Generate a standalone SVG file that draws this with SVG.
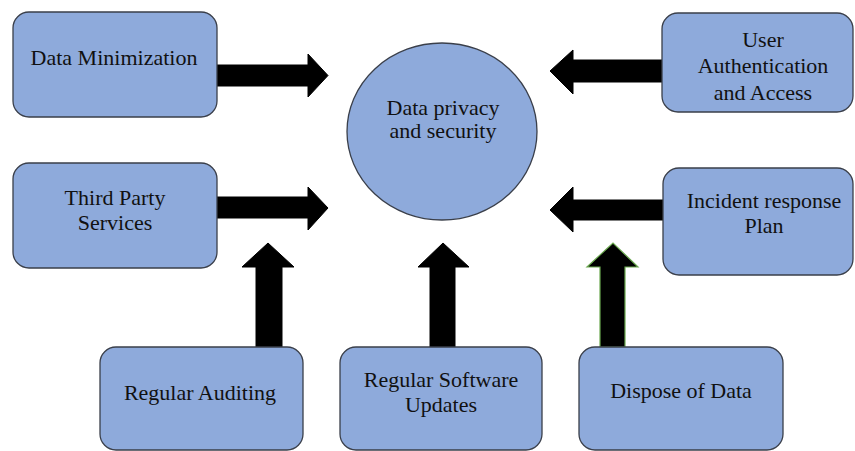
<svg xmlns="http://www.w3.org/2000/svg" width="855" height="451" viewBox="0 0 855 451">
<style>
.box{fill:#8eaadb;stroke:#3a3f4a;stroke-width:1.3}
.t{font-family:'Liberation Serif','Times New Roman',serif;font-size:22px;fill:#111;text-anchor:middle}
.arr{fill:#000;stroke:#000;stroke-width:1}
.arrg{fill:#000;stroke:#6aa84f;stroke-width:1.2}
</style>
<rect width="855" height="451" fill="#fff"/>
<g id="connectors">
<polygon class="arr" points="217,65 308,65 308,54 328,75.5 308,97 308,86 217,86"/>
<polygon class="arr" points="217,197 308,197 308,187 328,208 308,230 308,218 217,218"/>
<polygon class="arr" points="662,60 573,60 573,50 550,71 573,94 573,82 662,82"/>
<polygon class="arr" points="663,200 573,200 573,187 550,210 573,232 573,220 663,220"/>
<polygon class="arr" points="256,347 256,267 242,267 268,243 294,267 282,267 282,347"/>
<polygon class="arr" points="430,347 430,267 418,267 443,243 469,267 455,267 455,347"/>
<polygon class="arrg" points="600,347 600,267 587,267 613,243 638,267 625,267 625,347"/>
</g>
<g id="center">
<ellipse class="box" cx="442" cy="131.5" rx="95" ry="88.5"/>
<text class="t" x="443" y="115">Data privacy</text>
<text class="t" x="443" y="138">and security</text>
</g>
<g id="data-minimization">
<rect class="box" x="13" y="12" width="204" height="105" rx="16"/>
<text class="t" x="114" y="65">Data Minimization</text>
</g>
<g id="third-party">
<rect class="box" x="13" y="163" width="204" height="105" rx="16"/>
<text class="t" x="115" y="205">Third Party</text>
<text class="t" x="115" y="230">Services</text>
</g>
<g id="user-auth">
<rect class="box" x="662" y="13" width="191" height="99" rx="16"/>
<text class="t" x="763" y="47">User</text>
<text class="t" x="763" y="73">Authentication</text>
<text class="t" x="763" y="100">and Access</text>
</g>
<g id="incident">
<rect class="box" x="663" y="168" width="190" height="107" rx="16"/>
<text class="t" x="764" y="208">Incident response</text>
<text class="t" x="764" y="233">Plan</text>
</g>
<g id="auditing">
<rect class="box" x="100" y="347" width="203" height="103" rx="16"/>
<text class="t" x="200" y="400">Regular Auditing</text>
</g>
<g id="software">
<rect class="box" x="340" y="347" width="202" height="103" rx="16"/>
<text class="t" x="441" y="387">Regular Software</text>
<text class="t" x="441" y="412">Updates</text>
</g>
<g id="dispose">
<rect class="box" x="579" y="347" width="204" height="103" rx="16"/>
<text class="t" x="681" y="398">Dispose of Data</text>
</g>
</svg>
